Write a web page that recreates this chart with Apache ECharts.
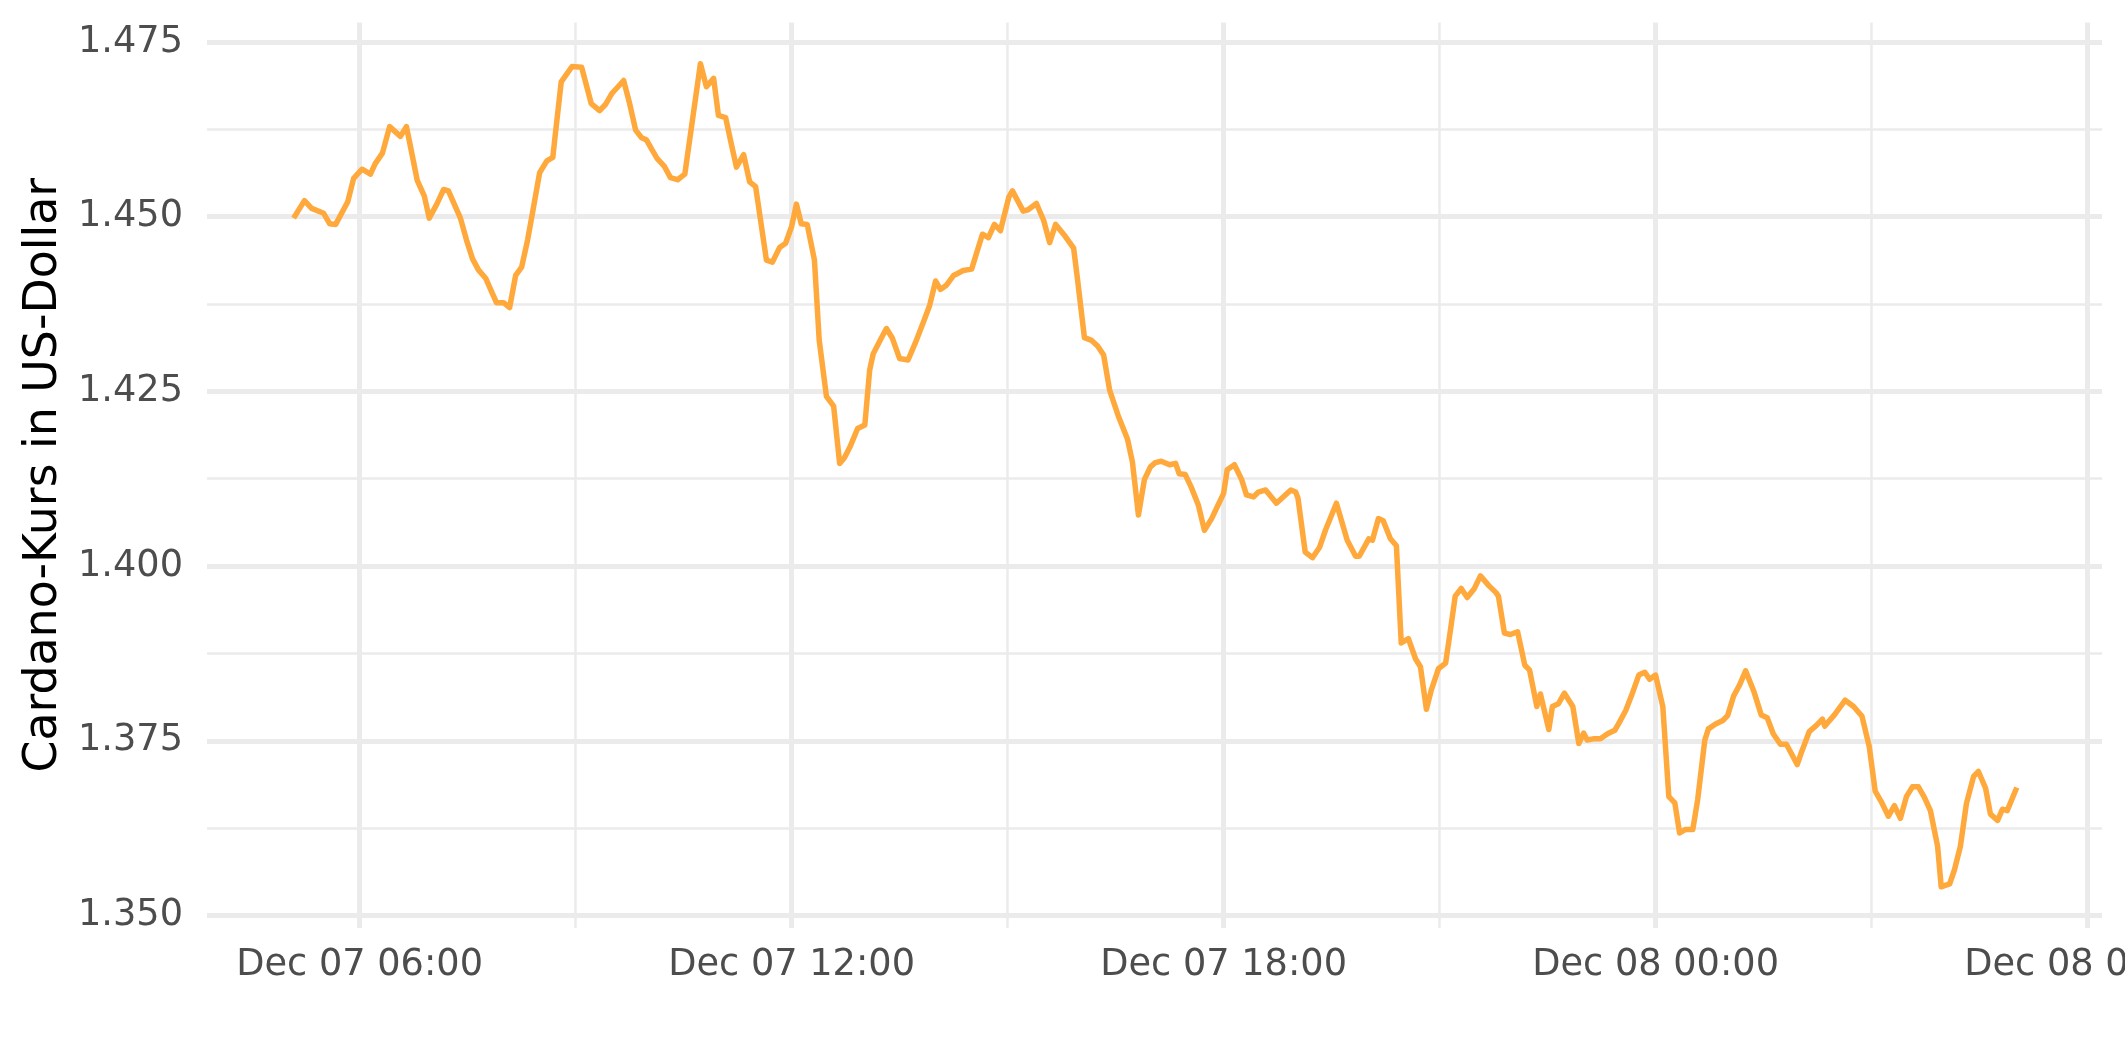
<!DOCTYPE html>
<html>
<head>
<meta charset="utf-8">
<script src="https://cdn.jsdelivr.net/npm/echarts@6/dist/echarts.min.js"></script>
<style>
html,body{margin:0;padding:0;background:#fff;}
#chart{width:2125px;height:1062px;}
</style>
</head>
<body>
<div id="chart"></div>
<script>
// Reference time: 2021-12-07 06:00 UTC; offsets in minutes
const startTime = Date.UTC(2021, 11, 7, 6, 0, 0);
const minuteOffsets = [
-55,-46,-40,-30,-25,-20,-10,-5,2,9,13,19,25,34,39,43,48,54,58,64,70,74,84,89,94,99,105,114,120,125,
130,135,140,144,150,156,161,163,168,177,185,193,200,205,210,220,225,230,235,239,243,248,254,259,265,271,
284,289,295,299,305,309,314,320,325,330,339,344,350,355,360,364,368,373,379,383,389,395,400,404,409,415,
421,425,428,434,439,444,450,457,463,470,475,480,484,489,495,503,510,519,524,529,534,541,544,553,557,564,
570,575,580,588,595,598,604,610,615,620,625,632,640,644,649,654,659,663,668,675,680,683,688,693,699,704,
710,715,720,723,729,735,739,745,749,755,764,771,776,780,782,788,794,800,805,814,823,830,833,841,844,849,
853,859,864,868,874,880,884,889,893,899,905,909,913,918,923,929,934,941,947,949,954,959,965,971,975,981,
984,991,994,999,1004,1011,1016,1020,1023,1029,1034,1040,1046,1050,1055,1060,1066,1071,1075,1080,1086,1091,
1096,1100,1105,1111,1115,1121,1124,1130,1136,1140,1145,1150,1155,1162,1168,1173,1178,1184,1189,1198,1201,
1208,1214,1219,1221,1229,1238,1245,1252,1258,1263,1268,1274,1279,1284,1289,1294,1299,1304,1309,1315,1318,
1325,1329,1334,1339,1345,1349,1355,1359,1365,1369,1373,1381
];
const prices = [
1.4498,1.4523,1.4512,1.4505,1.4490,1.4489,1.4521,1.4555,1.4568,1.4561,1.4576,1.4591,1.4629,1.4615,1.4629,1.4595,1.4552,1.4529,1.4498,1.4517,1.4539,1.4537,1.4498,1.4467,1.4440,1.4424,1.4412,1.4377,1.4377,1.4370,
1.4416,1.4428,1.4467,1.4505,1.4563,1.4580,1.4585,1.4617,1.4693,1.4715,1.4714,1.4662,1.4652,1.4661,1.4676,1.4695,1.4662,1.4624,1.4613,1.4610,1.4598,1.4583,1.4572,1.4556,1.4553,1.4561,
1.4719,1.4686,1.4698,1.4645,1.4642,1.4610,1.4571,1.4589,1.4550,1.4543,1.4438,1.4435,1.4456,1.4462,1.4486,1.4518,1.4490,1.4489,1.4438,1.4323,1.4243,1.4229,1.4147,1.4155,1.4172,1.4197,
1.4202,1.4280,1.4304,1.4324,1.4340,1.4326,1.4297,1.4295,1.4319,1.4350,1.4373,1.4408,1.4396,1.4402,1.4416,1.4423,1.4425,1.4475,1.4470,1.4489,1.4480,1.4528,1.4537,1.4508,1.4510,1.4519,
1.4495,1.4463,1.4489,1.4472,1.4455,1.4414,1.4327,1.4323,1.4315,1.4302,1.4252,1.4216,1.4181,1.4149,1.4073,1.4124,1.4142,1.4148,1.4150,1.4145,1.4147,1.4132,1.4131,1.4113,1.4087,1.4051,
1.4068,1.4086,1.4104,1.4138,1.4145,1.4124,1.4102,1.4099,1.4106,1.4109,1.4090,1.4101,1.4109,1.4106,1.4097,1.4020,1.4012,1.4027,1.4052,1.4090,1.4037,1.4014,1.4014,1.4039,1.4037,1.4068,
1.4065,1.4039,1.4029,1.3890,1.3896,1.3867,1.3856,1.3795,1.3822,1.3853,1.3861,1.3908,1.3957,1.3968,1.3955,1.3968,1.3986,1.3972,1.3962,1.3957,1.3904,1.3902,1.3906,1.3858,1.3851,1.3799,
1.3817,1.3766,1.3799,1.3803,1.3818,1.3799,1.3746,1.3761,1.3751,1.3753,1.3753,1.3760,1.3765,1.3777,1.3793,1.3815,1.3844,1.3848,1.3838,1.3844,1.3799,1.3670,
1.3661,1.3618,1.3623,1.3623,1.3665,1.3751,1.3767,1.3774,1.3779,1.3786,1.3814,1.3830,1.3850,1.3820,1.3787,1.3783,1.3760,1.3745,1.3745,1.3716,1.3731,
1.3763,1.3772,1.3781,1.3771,1.3787,1.3808,1.3799,1.3785,1.3742,1.3678,1.3663,1.3642,1.3657,1.3639,1.3670,1.3684,1.3684,1.3669,1.3650,1.3599,1.3541,
1.3545,1.3565,1.3599,1.3660,1.3699,1.3706,1.3682,1.3645,1.3636,1.3652,1.3650,1.3683
];
// Axis ticks (hours from 2021-12-07 00:00 UTC)
const xMajorHours = [6, 12, 18, 24, 30];
const xMinorHours = [9, 15, 21, 27];
const yMajorTicks = [1.350, 1.375, 1.400, 1.425, 1.450, 1.475];
const yMinorTicks = [1.3625, 1.3875, 1.4125, 1.4375, 1.4625];
const yTitle = 'Cardano-Kurs in US-Dollar';

const dayStart = Date.UTC(2021, 11, 7, 0, 0, 0);
const H = 3600 * 1000;
const xMajor = xMajorHours.map(h => dayStart + h * H);
const xMinor = xMinorHours.map(h => dayStart + h * H);
const seriesData = minuteOffsets.map((m, i) => [startTime + m * 60000, prices[i]]);

const xMin = startTime - 127.2 * 60000;
const xMax = startTime + 1452 * 60000;
const yMin = 1.3482, yMax = 1.4778;

const months = ['Jan','Feb','Mar','Apr','May','Jun','Jul','Aug','Sep','Oct','Nov','Dec'];
function pad(n){ return (n < 10 ? '0' : '') + n; }
function fmtTime(v){
  const d = new Date(v);
  return months[d.getUTCMonth()] + ' ' + pad(d.getUTCDate()) + ' ' + pad(d.getUTCHours()) + ':' + pad(d.getUTCMinutes());
}
const FONT = 'DejaVu Sans';
const gridColor = '#EBEBEB';

const chart = echarts.init(document.getElementById('chart'), null, {renderer: 'canvas'});
chart.setOption({
  animation: false,
  backgroundColor: '#ffffff',
  grid: {left: 207, right: 23, top: 22.5, bottom: 134, containLabel: false, outerBoundsMode: 'none'},
  xAxis: [
    {
      type: 'value', min: xMin, max: xMax, gridIndex: 0, scale: true,
      axisLine: {show: false},
      axisTick: {show: false, customValues: xMajor},
      axisLabel: {show: true, customValues: xMajor, formatter: fmtTime, fontSize: 36.7, fontFamily: FONT, color: '#4D4D4D', margin: 19, hideOverlap: false},
      splitLine: {show: true, lineStyle: {color: gridColor, width: 5}},
      z: 2
    },
    {
      type: 'value', min: xMin, max: xMax, gridIndex: 0, scale: true,
      axisLine: {show: false},
      axisTick: {show: false, customValues: xMinor},
      axisLabel: {show: false, customValues: xMinor},
      splitLine: {show: true, lineStyle: {color: gridColor, width: 2.5}},
      z: 1
    }
  ],
  yAxis: [
    {
      type: 'value', min: yMin, max: yMax, gridIndex: 0,
      name: yTitle, nameLocation: 'middle', nameGap: 140,
      nameTextStyle: {fontSize: 45.8, fontFamily: FONT, color: '#000000'},
      axisLine: {show: false},
      axisTick: {show: false, customValues: yMajorTicks},
      axisLabel: {show: true, customValues: yMajorTicks, formatter: v => v.toFixed(3), fontSize: 36.7, fontFamily: FONT, color: '#4D4D4D', margin: 24},
      splitLine: {show: true, lineStyle: {color: gridColor, width: 5}},
      z: 2
    },
    {
      type: 'value', min: yMin, max: yMax, gridIndex: 0,
      axisLine: {show: false},
      axisTick: {show: false, customValues: yMinorTicks},
      axisLabel: {show: false, customValues: yMinorTicks},
      splitLine: {show: true, lineStyle: {color: gridColor, width: 2.5}},
      z: 1
    }
  ],
  series: [{
    type: 'line',
    xAxisIndex: 0, yAxisIndex: 0,
    data: seriesData,
    showSymbol: false,
    symbol: 'none',
    lineStyle: {color: '#FFA83C', width: 5.5, join: 'round', cap: 'butt'},
    z: 5
  }]
});
</script>
</body>
</html>
